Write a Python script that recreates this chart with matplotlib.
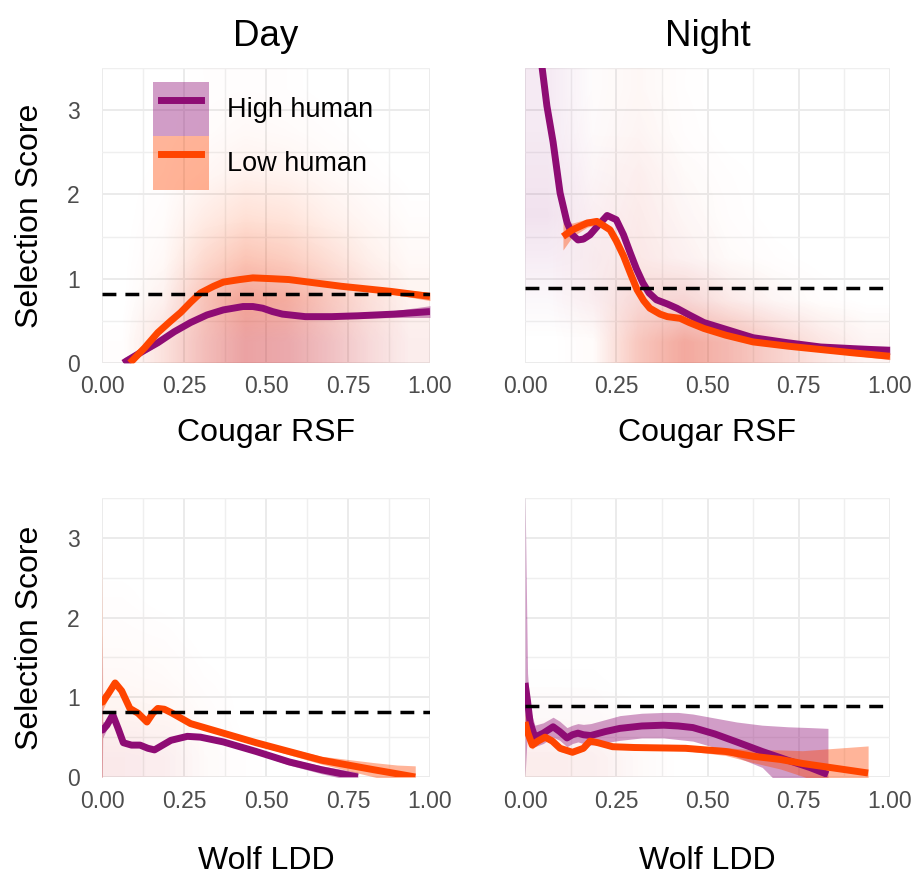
import numpy as np
import matplotlib
matplotlib.use('Agg')
import matplotlib.pyplot as plt
from matplotlib.colors import LinearSegmentedColormap
from matplotlib.patches import Patch
from matplotlib.lines import Line2D
from matplotlib.legend_handler import HandlerLine2D

plt.rcParams['font.family'] = ['Liberation Sans', 'DejaVu Sans']

PURPLE = '#8E0C74'
ORANGE = '#FF4500'

# ---- smooth curves: x, fit, lower, upper ----
# Day / Cougar RSF
dc_hi_x = [0.065, 0.12, 0.17, 0.22, 0.27, 0.32, 0.37, 0.43, 0.46, 0.49, 0.52, 0.55, 0.62, 0.70, 0.78, 0.89, 1.0]
dc_hi_y = [0.00, 0.13, 0.24, 0.37, 0.48, 0.57, 0.63, 0.67, 0.67, 0.65, 0.61, 0.58, 0.55, 0.55, 0.56, 0.58, 0.61]
dc_hi_w = [0.06, 0.04, 0.03, 0.02, 0.02, 0.02, 0.02, 0.02, 0.02, 0.02, 0.02, 0.02, 0.02, 0.02, 0.03, 0.04, 0.07]
dc_lo_x = [0.085, 0.13, 0.17, 0.21, 0.24, 0.27, 0.30, 0.34, 0.37, 0.42, 0.46, 0.52, 0.57, 0.65, 0.73, 0.88, 1.0]
dc_lo_y = [0.00, 0.18, 0.36, 0.50, 0.60, 0.72, 0.83, 0.91, 0.96, 0.99, 1.01, 1.00, 0.99, 0.95, 0.91, 0.85, 0.79]
dc_lo_w = [0.05, 0.04, 0.03, 0.02, 0.02, 0.02, 0.02, 0.02, 0.02, 0.02, 0.02, 0.02, 0.02, 0.02, 0.02, 0.03, 0.05]

# Night / Cougar RSF
nc_hi_x = [0.04, 0.047, 0.06, 0.077, 0.096, 0.115, 0.13, 0.145, 0.16, 0.178, 0.20, 0.225, 0.25, 0.27,
           0.288, 0.305, 0.323, 0.34, 0.36, 0.39, 0.416, 0.45, 0.49, 0.55, 0.625, 0.72, 0.81, 0.90, 1.0]
nc_hi_y = [3.90, 3.50, 3.05, 2.62, 2.02, 1.67, 1.52, 1.46, 1.47, 1.52, 1.63, 1.75, 1.70, 1.52,
           1.31, 1.12, 0.95, 0.83, 0.75, 0.70, 0.65, 0.57, 0.48, 0.40, 0.30, 0.24, 0.19, 0.17, 0.15]
nc_hi_w = [0.10, 0.08, 0.06, 0.05, 0.04, 0.04, 0.04, 0.03, 0.03, 0.03, 0.03, 0.03, 0.03, 0.03,
           0.03, 0.03, 0.02, 0.02, 0.02, 0.02, 0.02, 0.02, 0.02, 0.02, 0.02, 0.02, 0.02, 0.03, 0.05]
nc_lo_x = [0.104, 0.13, 0.17, 0.197, 0.233, 0.25, 0.27, 0.29, 0.307, 0.325, 0.342, 0.37, 0.39,
           0.425, 0.45, 0.49, 0.55, 0.625, 0.72, 0.81, 0.90, 1.0]
nc_lo_y = [1.50, 1.58, 1.66, 1.68, 1.58, 1.45, 1.27, 1.05, 0.87, 0.74, 0.65, 0.58, 0.55,
           0.53, 0.48, 0.41, 0.33, 0.25, 0.20, 0.16, 0.12, 0.08]
nc_lo_w = [0.16, 0.08, 0.05, 0.04, 0.04, 0.03, 0.03, 0.03, 0.03, 0.02, 0.02, 0.02, 0.02,
           0.02, 0.02, 0.02, 0.02, 0.02, 0.02, 0.02, 0.03, 0.04]

# Day / Wolf LDD
dw_hi_x = [0.0, 0.002, 0.015, 0.033, 0.05, 0.065, 0.09, 0.116, 0.14, 0.16, 0.185, 0.21, 0.26, 0.30,
           0.37, 0.47, 0.57, 0.67, 0.78]
dw_hi_y = [0.59, 0.59, 0.65, 0.78, 0.60, 0.43, 0.40, 0.40, 0.36, 0.34, 0.40, 0.46, 0.51, 0.50,
           0.44, 0.32, 0.19, 0.09, 0.00]
dw_hi_w = [1.20, 0.10, 0.05, 0.04, 0.04, 0.03, 0.03, 0.03, 0.03, 0.03, 0.03, 0.03, 0.03, 0.03,
           0.03, 0.03, 0.04, 0.05, 0.06]
dw_lo_x = [0.0, 0.002, 0.02, 0.04, 0.06, 0.085, 0.11, 0.137, 0.155, 0.17, 0.19, 0.21, 0.27, 0.37,
           0.47, 0.57, 0.67, 0.75, 0.83, 0.90, 0.955]
dw_lo_y = [0.94, 0.94, 1.05, 1.18, 1.08, 0.86, 0.80, 0.69, 0.80, 0.86, 0.85, 0.81, 0.67, 0.55,
           0.43, 0.32, 0.21, 0.15, 0.09, 0.04, 0.00]
dw_lo_w = [2.10, 0.10, 0.05, 0.04, 0.04, 0.04, 0.03, 0.03, 0.03, 0.03, 0.03, 0.03, 0.03, 0.03,
           0.03, 0.04, 0.05, 0.07, 0.09, 0.11, 0.14]

# Night / Wolf LDD
nw_hi_x = [0.0, 0.007, 0.014, 0.027, 0.05, 0.077, 0.095, 0.115, 0.13, 0.145, 0.16, 0.18, 0.22, 0.26,
           0.32, 0.38, 0.42, 0.46, 0.52, 0.58, 0.65, 0.72, 0.78, 0.83]
nw_hi_y = [1.18, 0.95, 0.68, 0.50, 0.55, 0.63, 0.57, 0.49, 0.53, 0.55, 0.53, 0.52, 0.57, 0.61,
           0.64, 0.65, 0.64, 0.62, 0.54, 0.44, 0.32, 0.21, 0.12, 0.03]
nw_hi_lo = [0.00, 0.60, 0.50, 0.38, 0.42, 0.50, 0.46, 0.38, 0.42, 0.44, 0.42, 0.40, 0.43, 0.46,
            0.49, 0.49, 0.47, 0.45, 0.37, 0.25, 0.12, -0.20, -0.40, -0.55]
nw_hi_up = [3.60, 1.30, 0.85, 0.65, 0.68, 0.75, 0.70, 0.62, 0.65, 0.67, 0.66, 0.67, 0.72, 0.77,
            0.80, 0.81, 0.81, 0.79, 0.74, 0.69, 0.65, 0.63, 0.62, 0.61]
nw_lo_x = [0.0, 0.008, 0.02, 0.035, 0.055, 0.075, 0.096, 0.13, 0.16, 0.178, 0.20, 0.24, 0.30, 0.44,
           0.55, 0.625, 0.70, 0.76, 0.85, 0.94]
nw_lo_y = [0.69, 0.55, 0.40, 0.45, 0.50, 0.45, 0.36, 0.31, 0.36, 0.45, 0.43, 0.38, 0.37, 0.36,
           0.32, 0.26, 0.22, 0.17, 0.11, 0.05]
nw_lo_w = [0.12, 0.08, 0.05, 0.04, 0.04, 0.04, 0.04, 0.03, 0.03, 0.03, 0.03, 0.03, 0.03, 0.03,
           0.05, 0.08, 0.12, 0.16, 0.25, 0.34]

# mean selection (dashed reference line)
ref_day = 0.82
ref_night = 0.89

# ---- rough point-cloud density (8 x-bins of 0.125, 7 y-bins of 0.5, bottom row first) ----
dens_dc_lo = [[0.02, 0.30, 0.60, 0.80, 0.70, 0.50, 0.30, 0.15],
              [0.00, 0.15, 0.65, 1.00, 0.90, 0.60, 0.35, 0.15],
              [0.00, 0.08, 0.45, 0.70, 0.60, 0.40, 0.20, 0.08],
              [0.00, 0.04, 0.25, 0.40, 0.35, 0.20, 0.10, 0.03],
              [0.00, 0.02, 0.10, 0.18, 0.15, 0.08, 0.03, 0.00],
              [0.00, 0.00, 0.04, 0.08, 0.06, 0.03, 0.00, 0.00],
              [0.00, 0.00, 0.02, 0.03, 0.02, 0.00, 0.00, 0.00]]
dens_dc_hi = [[0.00, 0.10, 0.35, 0.60, 0.60, 0.45, 0.25, 0.10],
              [0.00, 0.05, 0.20, 0.35, 0.30, 0.20, 0.10, 0.03],
              [0.00, 0.00, 0.05, 0.10, 0.08, 0.05, 0.02, 0.00],
              [0.00] * 8, [0.00] * 8, [0.00] * 8, [0.00] * 8]
dens_nc_lo = [[0.00, 0.05, 0.60, 0.90, 0.70, 0.45, 0.25, 0.10],
              [0.00, 0.10, 0.35, 0.35, 0.20, 0.08, 0.03, 0.00],
              [0.00, 0.10, 0.20, 0.12, 0.05, 0.02, 0.00, 0.00],
              [0.00, 0.08, 0.18, 0.08, 0.03, 0.00, 0.00, 0.00],
              [0.00, 0.05, 0.15, 0.05, 0.02, 0.00, 0.00, 0.00],
              [0.00, 0.03, 0.10, 0.03, 0.00, 0.00, 0.00, 0.00],
              [0.00, 0.02, 0.08, 0.02, 0.00, 0.00, 0.00, 0.00]]
dens_nc_hi = [[0.00, 0.00, 0.20, 0.35, 0.30, 0.20, 0.10, 0.05],
              [0.10, 0.15, 0.20, 0.25, 0.10, 0.05, 0.00, 0.00],
              [0.25, 0.20, 0.12, 0.08, 0.02, 0.00, 0.00, 0.00],
              [0.40, 0.15, 0.10, 0.05, 0.00, 0.00, 0.00, 0.00],
              [0.35, 0.10, 0.08, 0.03, 0.00, 0.00, 0.00, 0.00],
              [0.30, 0.05, 0.05, 0.00, 0.00, 0.00, 0.00, 0.00],
              [0.30, 0.03, 0.03, 0.00, 0.00, 0.00, 0.00, 0.00]]
dens_dw_lo = [[0.15, 0.12, 0.05, 0.02, 0.00, 0.00, 0.00, 0.00],
              [0.15, 0.12, 0.05, 0.00, 0.00, 0.00, 0.00, 0.00],
              [0.08, 0.06, 0.02, 0.00, 0.00, 0.00, 0.00, 0.00],
              [0.04, 0.03, 0.00, 0.00, 0.00, 0.00, 0.00, 0.00],
              [0.02, 0.00, 0.00, 0.00, 0.00, 0.00, 0.00, 0.00],
              [0.00] * 8, [0.00] * 8]
dens_dw_hi = [[0.15, 0.12, 0.03, 0.00, 0.00, 0.00, 0.00, 0.00],
              [0.03, 0.02, 0.00, 0.00, 0.00, 0.00, 0.00, 0.00],
              [0.00] * 8, [0.00] * 8, [0.00] * 8, [0.00] * 8, [0.00] * 8]
dens_nw_lo = [[0.15, 0.12, 0.05, 0.00, 0.00, 0.00, 0.00, 0.00],
              [0.05, 0.04, 0.02, 0.00, 0.00, 0.00, 0.00, 0.00],
              [0.00] * 8, [0.00] * 8, [0.00] * 8, [0.00] * 8, [0.00] * 8]
dens_nw_hi = [[0.10, 0.10, 0.03, 0.00, 0.00, 0.00, 0.00, 0.00],
              [0.05, 0.05, 0.00, 0.00, 0.00, 0.00, 0.00, 0.00],
              [0.02, 0.02, 0.00, 0.00, 0.00, 0.00, 0.00, 0.00],
              [0.00] * 8, [0.00] * 8, [0.00] * 8, [0.00] * 8]

x_ticks = [0.0, 0.25, 0.5, 0.75, 1.0]
x_ticklabels = ['0.00', '0.25', '0.50', '0.75', '1.00']
y_ticks = [0, 1, 2, 3]


def haze_cmap(color):
    rgb = matplotlib.colors.to_rgb(color)
    return LinearSegmentedColormap.from_list('h', [(*rgb, 0.0), (*rgb, 1.0)])


def draw_panel(ax, curves, hazes, ref, show_y):
    for dens, col, amax in hazes:
        ax.imshow(np.array(dens), origin='lower', extent=(0, 1, 0, 3.5), aspect='auto',
                  cmap=haze_cmap(col), vmin=0, vmax=1, alpha=amax,
                  interpolation='bilinear', zorder=1)
    for x, y, lo, up, col in curves:
        ax.fill_between(x, lo, up, color=col, alpha=0.4, linewidth=0, zorder=2)
    for x, y, lo, up, col in curves:
        ax.plot(x, y, color=col, linewidth=5, solid_capstyle='butt',
                solid_joinstyle='round', zorder=3)
    ax.axhline(ref, color='black', linewidth=2.5, dashes=(4, 2.6), zorder=4)

    ax.set_xlim(0, 1)
    ax.set_ylim(0, 3.5)
    ax.set_xticks(x_ticks)
    ax.set_xticklabels(x_ticklabels)
    ax.set_xticks(np.arange(0.125, 1.0, 0.25), minor=True)
    ax.set_yticks(y_ticks)
    ax.set_yticks([0.5, 1.5, 2.5, 3.5], minor=True)
    ax.grid(True, which='major', color='#EBEBEB', linewidth=1.4)
    ax.grid(True, which='minor', color='#EFEFEF', linewidth=1.0)
    ax.set_axisbelow(True)
    for s in ax.spines.values():
        s.set_visible(False)
    ax.tick_params(which='both', length=0, labelsize=16.5, labelcolor='#4D4D4D')
    ax.tick_params(axis='x', pad=9)
    ax.tick_params(axis='y', pad=16)
    if show_y:
        ax.set_ylabel('Selection Score', fontsize=23, labelpad=16)
    else:
        ax.set_yticklabels([])


def band(x, y, w):
    return [a - b for a, b in zip(y, w)], [a + b for a, b in zip(y, w)]


fig = plt.figure(figsize=(9.17, 8.74), dpi=100)
W, H = 917, 874
ax_dc = fig.add_axes([102 / W, 1 - 363 / H, 328 / W, 295 / H])
ax_nc = fig.add_axes([525 / W, 1 - 363 / H, 365 / W, 295 / H])
ax_dw = fig.add_axes([102 / W, 1 - 777 / H, 328 / W, 279 / H])
ax_nw = fig.add_axes([525 / W, 1 - 777 / H, 365 / W, 279 / H])

draw_panel(ax_dc,
           [(dc_hi_x, dc_hi_y, *band(dc_hi_x, dc_hi_y, dc_hi_w), PURPLE),
            (dc_lo_x, dc_lo_y, *band(dc_lo_x, dc_lo_y, dc_lo_w), ORANGE)],
           [(dens_dc_lo, ORANGE, 0.40), (dens_dc_hi, PURPLE, 0.30)], ref_day, True)
draw_panel(ax_nc,
           [(nc_hi_x, nc_hi_y, *band(nc_hi_x, nc_hi_y, nc_hi_w), PURPLE),
            (nc_lo_x, nc_lo_y, *band(nc_lo_x, nc_lo_y, nc_lo_w), ORANGE)],
           [(dens_nc_lo, ORANGE, 0.40), (dens_nc_hi, PURPLE, 0.30)], ref_night, False)
draw_panel(ax_dw,
           [(dw_hi_x, dw_hi_y, *band(dw_hi_x, dw_hi_y, dw_hi_w), PURPLE),
            (dw_lo_x, dw_lo_y, *band(dw_lo_x, dw_lo_y, dw_lo_w), ORANGE)],
           [(dens_dw_lo, ORANGE, 0.40), (dens_dw_hi, PURPLE, 0.30)], ref_day, True)
draw_panel(ax_nw,
           [(nw_hi_x, nw_hi_y, nw_hi_lo, nw_hi_up, PURPLE),
            (nw_lo_x, nw_lo_y, *band(nw_lo_x, nw_lo_y, nw_lo_w), ORANGE)],
           [(dens_nw_lo, ORANGE, 0.40), (dens_nw_hi, PURPLE, 0.30)], ref_night, False)

ax_dc.set_title('Day', fontsize=26.5, pad=16)
ax_nc.set_title('Night', fontsize=26.5, pad=16)
for ax in (ax_dc, ax_nc):
    ax.set_xlabel('Cougar RSF', fontsize=23, labelpad=14)
for ax in (ax_dw, ax_nw):
    ax.set_xlabel('Wolf LDD', fontsize=23, labelpad=24)

handles = [(Patch(facecolor=PURPLE, alpha=0.4, linewidth=0), Line2D([], [], color=PURPLE, linewidth=5)),
           (Patch(facecolor=ORANGE, alpha=0.4, linewidth=0), Line2D([], [], color=ORANGE, linewidth=5))]
ax_dc.legend(handles, ['High human', 'Low human'], loc='upper left',
             bbox_to_anchor=(51 / 328, 1 - 14 / 295), frameon=False, fontsize=19.5,
             handlelength=2.07, handleheight=2.7, labelspacing=0.0, handletextpad=0.67,
             borderpad=0, borderaxespad=0,
             handler_map={Line2D: HandlerLine2D(marker_pad=0.28, numpoints=2)})

fig.savefig('out.png', dpi=100)
